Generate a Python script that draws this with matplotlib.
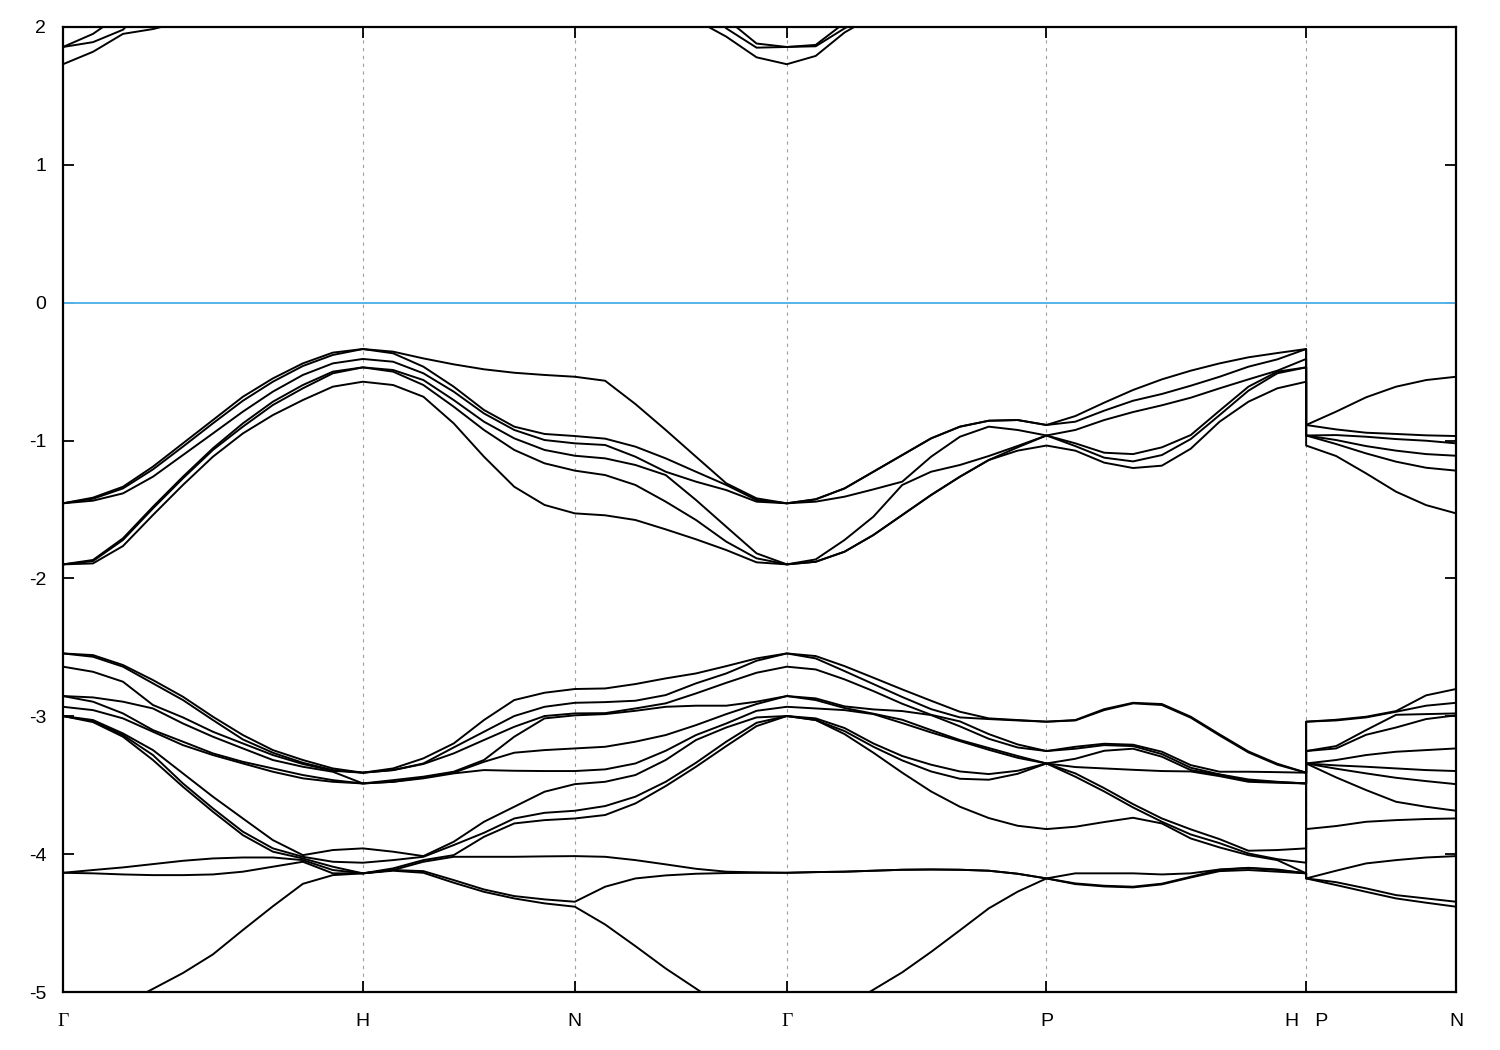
import numpy as np
import matplotlib.pyplot as plt

plt.rcParams['font.family'] = ['Liberation Sans', 'DejaVu Sans']
plt.rcParams['axes.unicode_minus'] = False

# path through the bcc zone, segment lengths in units of 2pi/a
seg_names = ['GH', 'HN', 'NG', 'GP', 'PH', 'PN']
seg_len = [1.0, 0.7071, 0.7071, 0.8660, 0.8660, 0.5]
tick_labels = ['Γ', 'H', 'N', 'Γ', 'P', 'H   P', 'N']

# upper d-bands (6), energies in eV at evenly spaced k-points on each segment
GH_up = [[-1.455, -1.455, -1.455, -1.898, -1.898, -1.898],
         [-1.414, -1.422, -1.436, -1.866, -1.874, -1.891],
         [-1.335, -1.347, -1.383, -1.709, -1.721, -1.765],
         [-1.189, -1.209, -1.262, -1.480, -1.492, -1.540],
         [-1.020, -1.044, -1.105, -1.262, -1.274, -1.322],
         [-0.851, -0.875, -0.948, -1.056, -1.068, -1.117],
         [-0.682, -0.711, -0.790, -0.875, -0.899, -0.948],
         [-0.549, -0.573, -0.645, -0.718, -0.742, -0.815],
         [-0.440, -0.459, -0.524, -0.597, -0.621, -0.706],
         [-0.362, -0.379, -0.440, -0.500, -0.512, -0.609],
         [-0.336, -0.336, -0.408, -0.469, -0.469, -0.573]]
HN_up = [[-0.336, -0.336, -0.408, -0.469, -0.469, -0.573],
         [-0.355, -0.367, -0.428, -0.488, -0.500, -0.597],
         [-0.404, -0.464, -0.512, -0.561, -0.597, -0.682],
         [-0.447, -0.609, -0.645, -0.706, -0.754, -0.875],
         [-0.483, -0.778, -0.803, -0.863, -0.923, -1.117],
         [-0.508, -0.899, -0.923, -0.984, -1.068, -1.335],
         [-0.524, -0.952, -0.996, -1.068, -1.165, -1.467],
         [-0.537, -0.967, -1.020, -1.110, -1.218, -1.528]]
NG_up = [[-0.537, -0.967, -1.020, -1.110, -1.218, -1.528],
         [-0.566, -0.986, -1.032, -1.129, -1.250, -1.542],
         [-0.735, -1.044, -1.117, -1.177, -1.322, -1.576],
         [-0.923, -1.129, -1.226, -1.250, -1.443, -1.644],
         [-1.117, -1.226, -1.298, -1.431, -1.576, -1.716],
         [-1.310, -1.322, -1.359, -1.625, -1.733, -1.794],
         [-1.419, -1.431, -1.443, -1.818, -1.854, -1.883],
         [-1.455, -1.455, -1.455, -1.898, -1.898, -1.898]]
GP_up = [[-1.455, -1.455, -1.455, -1.898, -1.898, -1.898],
         [-1.426, -1.426, -1.443, -1.862, -1.879, -1.879],
         [-1.347, -1.347, -1.407, -1.721, -1.806, -1.806],
         [-1.226, -1.226, -1.354, -1.552, -1.685, -1.685],
         [-1.105, -1.105, -1.298, -1.322, -1.540, -1.540],
         [-0.984, -0.984, -1.117, -1.226, -1.395, -1.395],
         [-0.899, -0.899, -0.972, -1.177, -1.262, -1.262],
         [-0.856, -0.856, -0.899, -1.112, -1.141, -1.141],
         [-0.851, -0.851, -0.923, -1.039, -1.049, -1.073],
         [-0.887, -0.887, -0.963, -0.963, -0.963, -1.036]]
PH_up = [[-0.887, -0.887, -0.963, -0.963, -0.963, -1.036],
         [-0.822, -0.863, -0.923, -1.020, -1.040, -1.073],
         [-0.725, -0.783, -0.851, -1.088, -1.124, -1.160],
         [-0.633, -0.711, -0.793, -1.098, -1.151, -1.199],
         [-0.556, -0.662, -0.744, -1.049, -1.105, -1.182],
         [-0.493, -0.602, -0.689, -0.960, -0.989, -1.059],
         [-0.440, -0.537, -0.621, -0.783, -0.815, -0.863],
         [-0.396, -0.464, -0.556, -0.609, -0.638, -0.718],
         [-0.365, -0.411, -0.493, -0.500, -0.512, -0.621],
         [-0.336, -0.336, -0.408, -0.469, -0.469, -0.573]]
PN_up = [[-0.887, -0.887, -0.963, -0.963, -0.963, -1.036],
         [-0.790, -0.919, -0.960, -0.996, -1.025, -1.112],
         [-0.686, -0.943, -0.972, -1.040, -1.093, -1.238],
         [-0.609, -0.952, -0.989, -1.073, -1.153, -1.371],
         [-0.561, -0.962, -1.001, -1.098, -1.197, -1.468],
         [-0.537, -0.967, -1.020, -1.110, -1.218, -1.528]]

# lower group (12 bands)
GH_low = [[-2.544, -2.544, -2.640, -2.853, -2.853, -2.931, -2.998, -2.998, -2.998, -4.135, -4.135, -5.40],
          [-2.556, -2.568, -2.677, -2.863, -2.894, -2.955, -3.027, -3.035, -3.042, -4.115, -4.139, -5.25],
          [-2.628, -2.640, -2.749, -2.894, -2.979, -3.015, -3.124, -3.136, -3.148, -4.096, -4.147, -5.09],
          [-2.737, -2.761, -2.918, -2.943, -3.100, -3.112, -3.245, -3.281, -3.317, -4.072, -4.152, -4.977],
          [-2.858, -2.882, -3.008, -3.052, -3.184, -3.209, -3.414, -3.487, -3.511, -4.048, -4.152, -4.862],
          [-3.003, -3.027, -3.112, -3.148, -3.269, -3.281, -3.583, -3.668, -3.692, -4.031, -4.147, -4.727],
          [-3.136, -3.168, -3.197, -3.233, -3.330, -3.342, -3.741, -3.837, -3.862, -4.024, -4.127, -4.550],
          [-3.245, -3.264, -3.281, -3.317, -3.378, -3.402, -3.898, -3.958, -3.982, -4.024, -4.091, -4.378],
          [-3.317, -3.337, -3.346, -3.366, -3.426, -3.450, -4.007, -4.019, -4.031, -4.043, -4.055, -4.215],
          [-3.378, -3.390, -3.395, -3.402, -3.463, -3.475, -3.970, -4.055, -4.091, -4.115, -4.139, -4.152],
          [-3.409, -3.409, -3.409, -3.487, -3.487, -3.487, -3.958, -4.062, -4.139, -4.139, -4.139, -4.139]]
HN_low = [[-3.409, -3.409, -3.409, -3.487, -3.487, -3.487, -3.958, -4.062, -4.139, -4.139, -4.139, -4.139],
          [-3.378, -3.390, -3.390, -3.463, -3.475, -3.475, -3.982, -4.043, -4.103, -4.115, -4.115, -4.120],
          [-3.305, -3.342, -3.346, -3.438, -3.443, -3.450, -4.014, -4.019, -4.043, -4.055, -4.123, -4.135],
          [-3.197, -3.226, -3.269, -3.402, -3.409, -3.414, -3.910, -3.934, -4.007, -4.019, -4.188, -4.207],
          [-3.027, -3.112, -3.172, -3.317, -3.330, -3.390, -3.765, -3.845, -3.874, -4.019, -4.256, -4.273],
          [-2.882, -2.998, -3.076, -3.148, -3.264, -3.395, -3.656, -3.741, -3.777, -4.019, -4.304, -4.321],
          [-2.829, -2.931, -2.998, -3.015, -3.245, -3.397, -3.547, -3.700, -3.753, -4.016, -4.328, -4.357],
          [-2.802, -2.902, -2.979, -2.993, -3.233, -3.397, -3.492, -3.685, -3.741, -4.014, -4.345, -4.381]]
NG_low = [[-2.802, -2.902, -2.979, -2.993, -3.233, -3.397, -3.492, -3.685, -3.741, -4.014, -4.345, -4.381],
          [-2.798, -2.897, -2.977, -2.984, -3.221, -3.385, -3.475, -3.651, -3.716, -4.019, -4.236, -4.510],
          [-2.766, -2.887, -2.943, -2.960, -3.184, -3.342, -3.426, -3.583, -3.632, -4.043, -4.176, -4.667],
          [-2.725, -2.846, -2.906, -2.931, -3.136, -3.250, -3.317, -3.475, -3.506, -4.074, -4.154, -4.829],
          [-2.689, -2.761, -2.834, -2.923, -3.064, -3.136, -3.172, -3.337, -3.366, -4.106, -4.142, -4.975],
          [-2.636, -2.689, -2.757, -2.923, -2.984, -3.052, -3.081, -3.184, -3.216, -4.127, -4.137, -5.12],
          [-2.580, -2.597, -2.684, -2.894, -2.911, -2.960, -3.008, -3.047, -3.071, -4.132, -4.135, -5.25],
          [-2.544, -2.544, -2.640, -2.853, -2.853, -2.931, -2.998, -2.998, -2.998, -4.135, -4.135, -5.40]]
GP_low = [[-2.544, -2.544, -2.640, -2.853, -2.853, -2.931, -2.998, -2.998, -2.998, -4.135, -4.135, -5.40],
          [-2.563, -2.580, -2.660, -2.870, -2.882, -2.943, -3.015, -3.027, -3.027, -4.130, -4.130, -5.25],
          [-2.636, -2.672, -2.732, -2.928, -2.940, -2.955, -3.085, -3.107, -3.129, -4.127, -4.127, -5.105],
          [-2.720, -2.766, -2.817, -2.950, -2.981, -2.984, -3.197, -3.221, -3.264, -4.120, -4.120, -4.983],
          [-2.805, -2.860, -2.909, -2.962, -3.025, -3.049, -3.288, -3.320, -3.409, -4.113, -4.113, -4.857],
          [-2.887, -2.948, -2.989, -2.991, -3.100, -3.117, -3.351, -3.400, -3.545, -4.111, -4.111, -4.709],
          [-2.967, -3.008, -3.037, -3.073, -3.172, -3.180, -3.400, -3.453, -3.656, -4.113, -4.113, -4.552],
          [-3.015, -3.020, -3.129, -3.163, -3.230, -3.243, -3.419, -3.460, -3.738, -4.120, -4.120, -4.393],
          [-3.027, -3.030, -3.204, -3.226, -3.288, -3.301, -3.395, -3.417, -3.794, -4.142, -4.142, -4.272],
          [-3.039, -3.039, -3.252, -3.252, -3.342, -3.342, -3.342, -3.342, -3.818, -4.176, -4.176, -4.176]]
PH_low = [[-3.039, -3.039, -3.252, -3.252, -3.342, -3.342, -3.342, -3.342, -3.818, -4.176, -4.176, -4.176],
          [-3.027, -3.030, -3.221, -3.235, -3.308, -3.368, -3.414, -3.438, -3.801, -4.139, -4.212, -4.217],
          [-2.948, -2.955, -3.199, -3.209, -3.250, -3.378, -3.521, -3.545, -3.767, -4.139, -4.229, -4.234],
          [-2.902, -2.906, -3.206, -3.216, -3.235, -3.388, -3.637, -3.661, -3.736, -4.139, -4.236, -4.241],
          [-2.911, -2.918, -3.257, -3.274, -3.293, -3.397, -3.741, -3.765, -3.777, -4.147, -4.214, -4.219],
          [-3.003, -3.010, -3.354, -3.373, -3.390, -3.400, -3.820, -3.857, -3.886, -4.139, -4.164, -4.169],
          [-3.131, -3.139, -3.402, -3.421, -3.424, -3.434, -3.891, -3.920, -3.951, -4.111, -4.113, -4.123],
          [-3.255, -3.262, -3.402, -3.458, -3.467, -3.475, -3.975, -3.995, -4.007, -4.099, -4.101, -4.115],
          [-3.344, -3.351, -3.405, -3.475, -3.477, -3.482, -3.970, -4.036, -4.043, -4.111, -4.115, -4.127],
          [-3.409, -3.409, -3.409, -3.487, -3.487, -3.487, -3.958, -4.062, -4.139, -4.139, -4.139, -4.139]]
PN_low = [[-3.039, -3.039, -3.252, -3.252, -3.342, -3.342, -3.342, -3.342, -3.818, -4.176, -4.176, -4.176],
          [-3.025, -3.030, -3.216, -3.233, -3.317, -3.356, -3.380, -3.443, -3.796, -4.120, -4.203, -4.224],
          [-3.003, -3.008, -3.100, -3.134, -3.281, -3.366, -3.414, -3.535, -3.765, -4.067, -4.248, -4.273],
          [-2.962, -2.967, -2.989, -3.081, -3.257, -3.378, -3.446, -3.620, -3.753, -4.043, -4.297, -4.321],
          [-2.848, -2.923, -2.984, -3.020, -3.245, -3.390, -3.470, -3.656, -3.745, -4.024, -4.321, -4.352],
          [-2.802, -2.902, -2.979, -2.993, -3.233, -3.397, -3.492, -3.685, -3.741, -4.014, -4.345, -4.381]]

# conduction bands, only the bits near Gamma are on the chart (nan = off chart)
nan = np.nan
GH_cond = [[1.73, 1.855, 1.855], [1.82, 1.89, 1.95], [1.95, 1.98, 2.10],
           [1.985, 2.20, 2.40], [2.04, nan, nan]] + [[nan, nan, nan]] * 6
NG_cond = [[nan, nan, nan]] * 4 + [[2.05, 2.20, 2.35], [1.93, 1.99, 2.06],
                                   [1.78, 1.85, 1.88], [1.73, 1.855, 1.855]]
GP_cond = [[1.73, 1.855, 1.855], [1.79, 1.86, 1.87], [1.96, 1.99, 2.03],
           [2.08, 2.10, 2.30]] + [[nan, nan, nan]] * 6

upper = [GH_up, HN_up, NG_up, GP_up, PH_up, PN_up]
lower = [GH_low, HN_low, NG_low, GP_low, PH_low, PN_low]
cond = [GH_cond, None, NG_cond, GP_cond, None, None]

# build k axis
ticks = np.concatenate([[0], np.cumsum(seg_len)])
kx = []
for i in range(len(seg_len)):
    n = len(upper[i])
    kx.append(ticks[i] + np.linspace(0, 1, n) * seg_len[i])
k_all = np.concatenate(kx)

fig = plt.figure(figsize=(15, 10.5), dpi=100)
ax = fig.add_axes([0.042, 0.0552, 0.9287, 0.9191])

# grid lines at interior symmetry points
for t in ticks[1:-1]:
    ax.axvline(t, color='#a0a0a0', lw=0.8, ls=(0, (3, 4)), zorder=1)

ax.axhline(0, color='#56b4e9', lw=1.4, zorder=2)

for group in [upper, lower]:
    E = np.concatenate([np.array(s) for s in group])
    for j in range(E.shape[1]):
        ax.plot(k_all, E[:, j], color='black', lw=1.4, zorder=3)

E = np.concatenate([np.array(c) if c is not None else np.full((len(upper[i]), 3), nan)
                    for i, c in enumerate(cond)])
for j in range(E.shape[1]):
    ax.plot(k_all, E[:, j], color='black', lw=1.4, zorder=3)

ax.set_xlim(ticks[0], ticks[-1])
ax.set_ylim(-5, 2)
ax.set_yticks(range(-5, 3))
ax.set_yticklabels([str(v) for v in range(-5, 3)])
ax.set_xticks(ticks)
ax.set_xticklabels(tick_labels)
for lab in ax.get_xticklabels():
    if lab.get_text() == 'Γ':
        lab.set_family(['Liberation Serif', 'DejaVu Serif'])

ax.tick_params(direction='in', length=8, width=1.3, top=True, right=True,
               labelsize=14)
ax.tick_params(axis='x', pad=15)
ax.tick_params(axis='y', pad=12)
for sp in ax.spines.values():
    sp.set_linewidth(1.6)

plt.savefig('out.png', dpi=100)
